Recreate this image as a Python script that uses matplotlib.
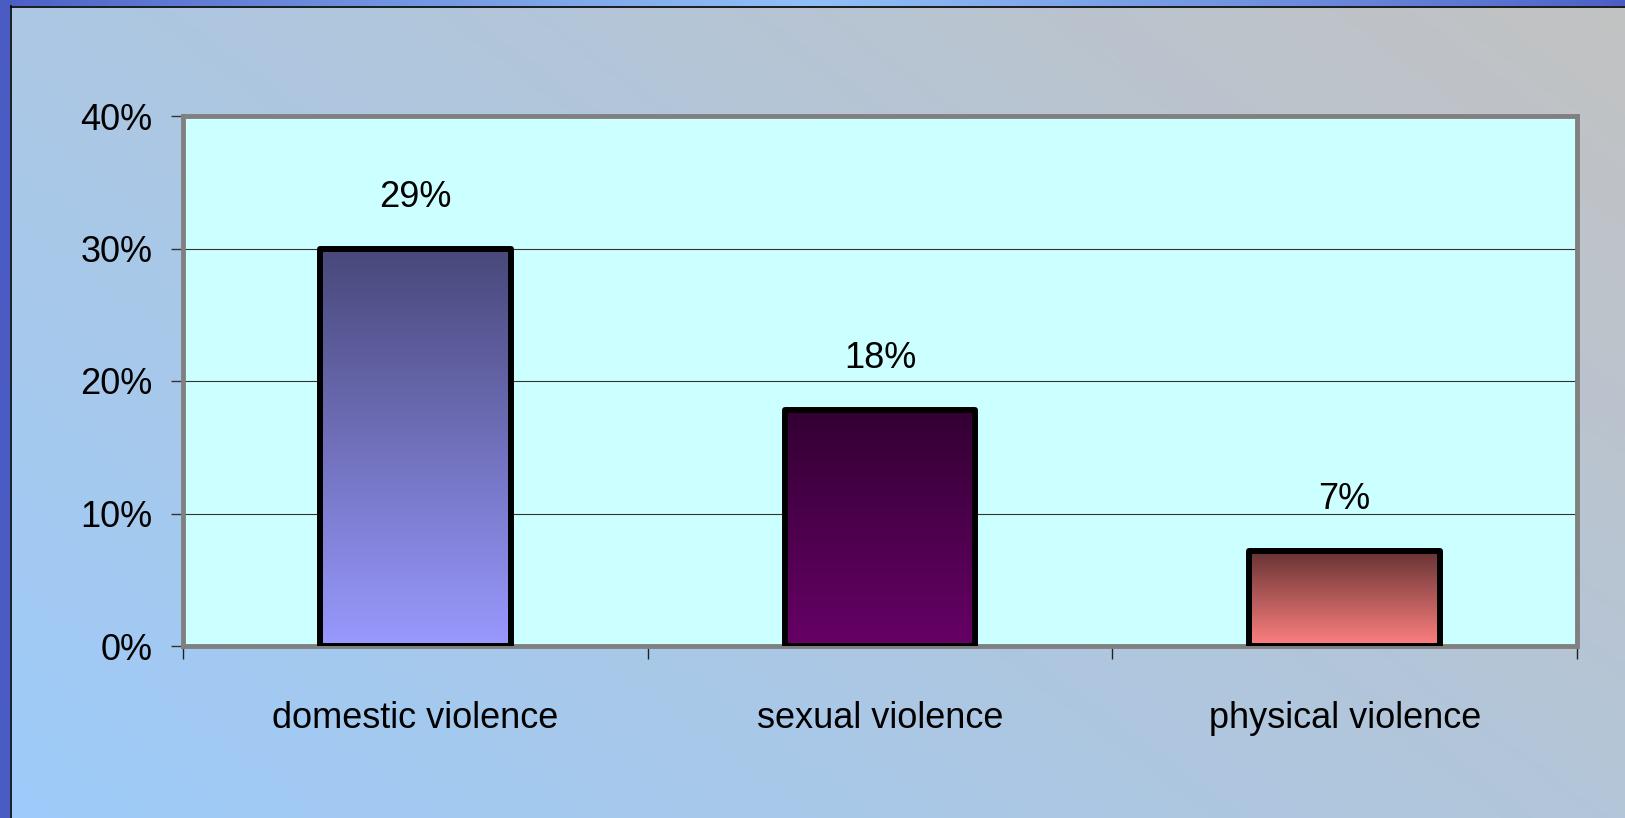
import numpy as np
import matplotlib
matplotlib.use("Agg")
import matplotlib.pyplot as plt
from matplotlib.colors import LinearSegmentedColormap, to_rgb
from matplotlib.patches import Rectangle

plt.rcParams["font.family"] = ["Liberation Sans", "DejaVu Sans"]

# --- data ---
categories = ["domestic violence", "sexual violence", "physical violence"]
bar_heights = [0.30, 0.178, 0.072]
value_labels = ["29%", "18%", "7%"]
y_ticks = [0.0, 0.1, 0.2, 0.3, 0.4]

# top colour -> bottom colour for each bar
bar_grads = [("#48487a", "#9999ff"), ("#330033", "#660066"), ("#663333", "#ff8080")]

W, H, DPI = 1625, 818, 100
fig = plt.figure(figsize=(W / DPI, H / DPI), dpi=DPI)

# --- slide background: diagonal gradient light blue (bottom-left) -> silver (top-right) ---
bg = fig.add_axes([0, 0, 1, 1], zorder=-10)
gx, gy = np.meshgrid(np.linspace(0, 1, 300), np.linspace(0, 1, 150))
t = np.clip((gx * 0.6 + gy * 0.4), 0, 1)
c0, c1 = np.array(to_rgb("#9dcbfa")), np.array(to_rgb("#c2c2c2"))
img = c0[None, None, :] * (1 - t[..., None]) + c1[None, None, :] * t[..., None]
bg.imshow(img, origin="lower", extent=[0, 1, 0, 1], aspect="auto")
bg.set_xlim(0, 1)
bg.set_ylim(0, 1)
bg.axis("off")

# left blue strip + black line
bg.add_patch(Rectangle((0, 0), 10 / W, 1, color="#4a5cc4", lw=0))
bg.plot([10.5 / W, 10.5 / W], [0, 1 - 6 / H], color="black", lw=1.2)
# top strip with horizontal gradient
tx = np.linspace(0, 1, 400)
tt = np.clip(1 - np.abs(tx - 0.5) / 0.5, 0, 1) ** 0.8
d, l = np.array(to_rgb("#4a5cc4")), np.array(to_rgb("#90c0f8"))
strip = (d[None, :] * (1 - tt[:, None]) + l[None, :] * tt[:, None])[None, :, :]
bg.imshow(strip, extent=[0, 1, 1 - 6 / H, 1], aspect="auto", origin="lower")
bg.plot([10.5 / W, 1], [1 - 6.5 / H, 1 - 6.5 / H], color="black", lw=1.2)
bg.set_xlim(0, 1)
bg.set_ylim(0, 1)

# --- chart ---
left, right, top, bottom = 183, 1577, 116, 646
ax = fig.add_axes([left / W, 1 - bottom / H, (right - left) / W, (bottom - top) / H])
ax.set_facecolor("#ccffff")
ax.set_xlim(-0.5, 2.5)
ax.set_ylim(0, 0.4)

for s in ax.spines.values():
    s.set_color("#808080")
    s.set_linewidth(3.5)

for y in y_ticks[1:-1]:
    ax.axhline(y, color="#333333", lw=0.8, zorder=1)

x = np.arange(len(categories))
bars = ax.bar(x, bar_heights, width=0.41, facecolor="none", edgecolor="black",
              linewidth=4.3, zorder=3, joinstyle="round")

grad = np.linspace(0, 1, 256).reshape(-1, 1)
for b, (ctop, cbot) in zip(bars, bar_grads):
    cmap = LinearSegmentedColormap.from_list("g", [cbot, ctop])
    im = ax.imshow(grad, cmap=cmap, origin="lower", aspect="auto",
                   extent=[b.get_x(), b.get_x() + b.get_width(), 0, b.get_height()],
                   zorder=2)
    im.set_clip_path(b)

ax.set_xlim(-0.5, 2.5)
ax.set_ylim(0, 0.4)

for b, lab in zip(bars, value_labels):
    ax.annotate(lab, (b.get_x() + b.get_width() / 2, b.get_height()),
                xytext=(0, 37), textcoords="offset points",
                ha="center", va="center", fontsize=26)

ax.set_yticks(y_ticks)
ax.set_yticklabels([f"{v:.0%}" for v in y_ticks], fontsize=26)
ax.tick_params(axis="y", length=9, width=1, color="#333333", pad=13, direction="out")

ax.set_xticks([-0.5, 0.5, 1.5, 2.5])
ax.set_xticklabels([])
ax.tick_params(axis="x", length=9, width=1, color="#222222", direction="out")
for xi, cat in zip(x, categories):
    ax.text(xi, -0.136, cat, transform=ax.get_xaxis_transform(),
            ha="center", va="center", fontsize=26)

fig.savefig("out.png", dpi=DPI)
